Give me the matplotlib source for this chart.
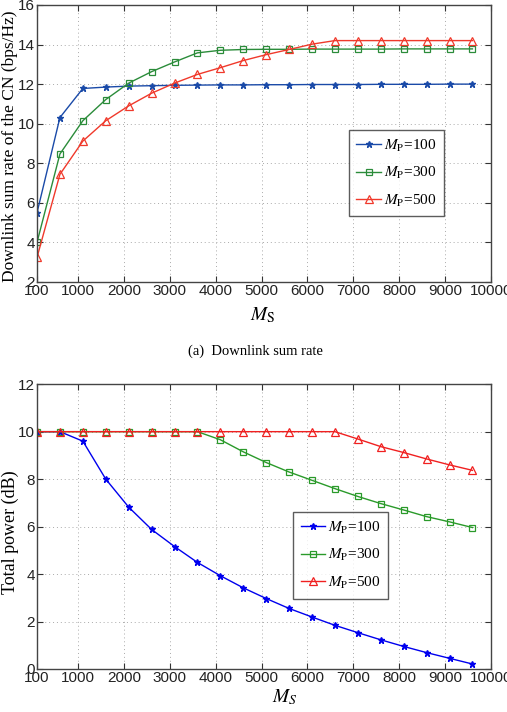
import matplotlib
matplotlib.use('Agg')
import matplotlib.pyplot as plt
import numpy as np

# M_S sample points
ms = [100, 600, 1100, 1600, 2100, 2600, 3100, 3600, 4100, 4600,
      5100, 5600, 6100, 6600, 7100, 7600, 8100, 8600, 9100, 9600]
xticks = [100, 1000, 2000, 3000, 4000, 5000, 6000, 7000, 8000, 9000, 10000]

# (a) downlink sum rate (bps/Hz)
rate_100 = [5.5, 10.31, 11.78, 11.85, 11.9, 11.92, 11.94, 11.95, 11.96, 11.96,
            11.97, 11.97, 11.98, 11.98, 11.98, 11.99, 11.99, 11.99, 12.0, 12.0]
rate_300 = [4.0, 8.47, 10.15, 11.22, 12.05, 12.63, 13.12, 13.58, 13.71, 13.75,
            13.76, 13.76, 13.77, 13.77, 13.77, 13.77, 13.78, 13.78, 13.78, 13.78]
rate_500 = [3.24, 7.44, 9.12, 10.15, 10.9, 11.54, 12.05, 12.49, 12.83, 13.19,
            13.49, 13.75, 14.02, 14.2, 14.2, 14.2, 14.2, 14.2, 14.2, 14.2]

# (b) total power (dB)
pow_100 = [10.0, 10.0, 9.6, 8.0, 6.82, 5.88, 5.16, 4.49, 3.93, 3.42,
           2.97, 2.55, 2.19, 1.84, 1.53, 1.23, 0.95, 0.69, 0.45, 0.21]
pow_300 = [10.0, 10.0, 10.0, 10.0, 10.0, 10.0, 10.0, 10.0, 9.66, 9.15,
           8.7, 8.3, 7.95, 7.6, 7.27, 6.97, 6.7, 6.42, 6.2, 5.96]
pow_500 = [10.0, 10.0, 10.0, 10.0, 10.0, 10.0, 10.0, 10.0, 10.0, 10.0,
           10.0, 10.0, 10.0, 10.0, 9.69, 9.37, 9.12, 8.85, 8.6, 8.37]

plt.rcParams['mathtext.fontset'] = 'stix'
tickfont = ['Liberation Sans Narrow', 'Liberation Sans']
serif = 'Liberation Serif'

fig = plt.figure(figsize=(5.07, 7.12), dpi=100)


def style(ax, ylo, yhi, yticks):
	ax.set_xlim(100, 10000)
	ax.set_ylim(ylo, yhi)
	ax.set_xticks(xticks)
	ax.set_yticks(yticks)
	ax.set_xticklabels([str(v) for v in xticks], family=tickfont, fontsize=11)
	ax.set_yticklabels([str(v) for v in yticks], family=tickfont, fontsize=11)
	ax.tick_params(direction='in', top=True, right=True, length=4, width=0.8,
				   colors='#333333', pad=1.5)
	ax.grid(True, linestyle=(0, (1, 3)), color='#aaaaaa', linewidth=0.7)
	for s in ax.spines.values():
		s.set_color('#444444')
		s.set_linewidth(1.0)
	for lbl in ax.get_xticklabels() + ax.get_yticklabels():
		lbl.set_color('#222222')


def legend(ax, anchor):
	lg = ax.legend(loc='upper left', bbox_to_anchor=anchor, borderaxespad=0,
				   prop={'family': serif, 'size': 11}, fancybox=False,
				   edgecolor='#333333', handlelength=1.6, borderpad=0.5,
				   labelspacing=0.75, handletextpad=0.2)
	lg.get_frame().set_linewidth(1.0)


# top panel
ax1 = fig.add_axes([0.073, 0.604, 0.895, 0.389])
ax1.plot(ms, rate_100, color='#1a4aa8', marker='*', ms=5, lw=1.0,
		 label=r'$M_{\mathrm{P}}$=100')
ax1.plot(ms, rate_300, color='#2b8c3a', marker='s', ms=5, mfc='none', mew=0.9,
		 lw=1.0, label=r'$M_{\mathrm{P}}$=300')
ax1.plot(ms, rate_500, color='#f0392b', marker='^', ms=6, mfc='none', mew=0.9,
		 lw=1.0, label=r'$M_{\mathrm{P}}$=500')
style(ax1, 2, 16, [2, 4, 6, 8, 10, 12, 14, 16])
ax1.set_xlabel(r'$M_{\mathrm{S}}$', fontsize=14)
ax1.xaxis.set_label_coords(0.497, -0.085)
ax1.set_ylabel('Downlink sum rate of the CN (bps/Hz)', family=serif,
			   fontsize=12.5)
ax1.yaxis.set_label_coords(-0.042, 0.49)
legend(ax1, (0.687, 0.549))

fig.text(0.503, 0.506, '(a)  Downlink sum rate', family=serif, fontsize=10.5,
		 ha='center', va='center')

# bottom panel
ax2 = fig.add_axes([0.073, 0.0604, 0.895, 0.400])
ax2.plot(ms, pow_100, color='#0000ee', marker='*', ms=5, lw=1.0,
		 label=r'$M_{\mathrm{P}}$=100')
ax2.plot(ms, pow_300, color='#2a9a2a', marker='s', ms=5, mfc='none', mew=0.9,
		 lw=1.0, label=r'$M_{\mathrm{P}}$=300')
ax2.plot(ms, pow_500, color='#f02020', marker='^', ms=6, mfc='none', mew=0.9,
		 lw=1.0, label=r'$M_{\mathrm{P}}$=500')
style(ax2, 0, 12, [0, 2, 4, 6, 8, 10, 12])
ax2.set_xlabel(r'$M_S$', fontsize=14)
ax2.xaxis.set_label_coords(0.545, -0.066)
ax2.set_ylabel('Total power (dB)', family=serif, fontsize=13)
ax2.yaxis.set_label_coords(-0.040, 0.48)
legend(ax2, (0.564, 0.551))

fig.savefig('out.png', dpi=100)
